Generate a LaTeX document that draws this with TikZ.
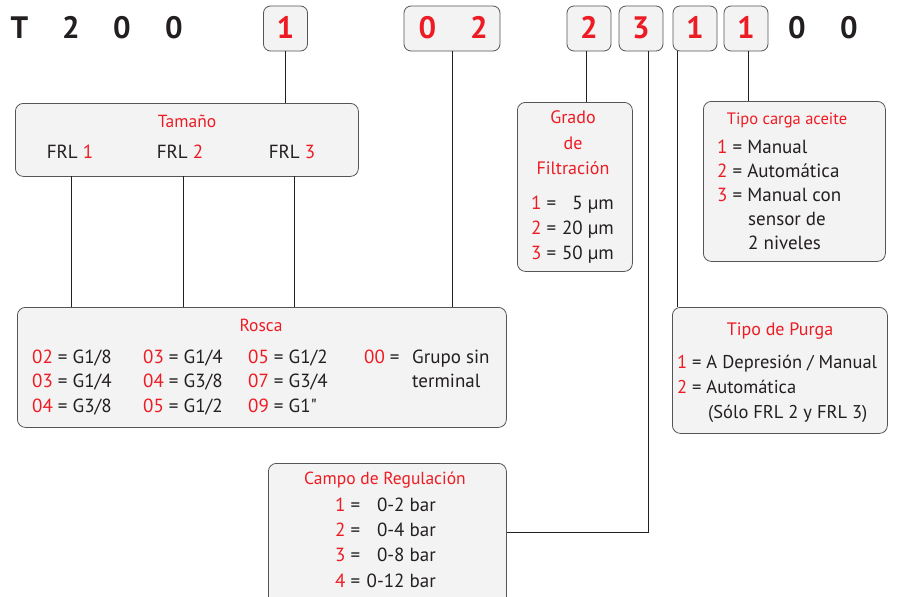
\documentclass[tikz,border=0pt]{standalone}
\usepackage{fontspec}
\setmainfont{PT Sans}
\definecolor{redc}{HTML}{ED1C24}
\definecolor{boxfill}{HTML}{F3F3F3}
\definecolor{boxline}{HTML}{555555}
\definecolor{txt}{HTML}{231F20}
\newcommand{\rc}[1]{\textcolor{redc}{#1}}
\begin{document}
\begin{tikzpicture}[x=1pt,y=-1pt,
  box/.style={draw=boxline,fill=boxfill,rounded corners=8pt,line width=0.8pt,anchor=north west,inner sep=0pt},
  hbox/.style={draw=boxline,fill=boxfill,rounded corners=7pt,line width=0.8pt,inner sep=0pt,minimum width=44pt,minimum height=45pt},
  hd/.style={font=\fontsize{31}{33}\selectfont\bfseries,text=txt,anchor=base,inner sep=0pt},
  hr/.style={font=\fontsize{31}{33}\selectfont\bfseries,text=redc,anchor=base,inner sep=0pt},
  ttl/.style={font=\fontsize{16.5}{18}\selectfont,text=redc,anchor=base,inner sep=0pt},
  tx/.style={font=\fontsize{19}{21}\selectfont,text=txt,anchor=base west,inner sep=0pt},
  txe/.style={font=\fontsize{19}{21}\selectfont,text=txt,anchor=base east,inner sep=0pt},
  txc/.style={font=\fontsize{19}{21}\selectfont,text=txt,anchor=base,inner sep=0pt},
  conn/.style={draw=txt,line width=0.8pt}]
\useasboundingbox (0,0) rectangle (897,597);
\fill[white] (0,0) rectangle (897,597);

% header
\node[hd] (t1) at (19.5,38.5) {T};
\node[hd] (t2) at (71,38.5) {2};
\node[hd] (t3) at (122,38.5) {0};
\node[hd] (t4) at (174,38.5) {0};
\node[hbox] (h1) at (285.5,28.5) {};
\node[hr] (h1t) at (285.5,38.5) {1};
\node[hbox,minimum width=96pt] (h02) at (452,28.5) {};
\node[hr] (h02a) at (427.5,38.5) {0};
\node[hr] (h02b) at (479,38.5) {2};
\node[hbox] (h2) at (589,28.5) {};
\node[hr] (h2t) at (589,38.5) {2};
\node[hbox] (h3) at (641,28.5) {};
\node[hr] (h3t) at (641,38.5) {3};
\node[hbox] (h4) at (695,28.5) {};
\node[hr] (h4t) at (695,38.5) {1};
\node[hbox] (h5) at (746,28.5) {};
\node[hr] (h5t) at (746,38.5) {1};
\node[hd] (t5) at (797,38.5) {0};
\node[hd] (t6) at (849,38.5) {0};

% boxes
\node[box,minimum width=343pt,minimum height=73pt] (tam) at (15,103) {};
\node[box,minimum width=489pt,minimum height=120pt] (ros) at (17,307) {};
\node[box,minimum width=115pt,minimum height=169pt] (gra) at (517,102) {};
\node[box,minimum width=182pt,minimum height=160pt] (ace) at (703,101) {};
\node[box,minimum width=215pt,minimum height=126pt] (pur) at (672,307) {};
\node[box,minimum width=238pt,minimum height=150pt] (cam) at (268,463) {};

% connectors
\coordinate (f1) at (71,176);
\coordinate (f2) at (183,176);
\coordinate (f3) at (294,176);
\draw[conn] (h1.south) -- (h1.south |- tam.north);
\draw[conn] (f1) -- (f1 |- ros.north);
\draw[conn] (f2) -- (f2 |- ros.north);
\draw[conn] (f3) -- (f3 |- ros.north);
\draw[conn] (h02.south) -- (h02.south |- ros.north);
\draw[conn] ([xshift=-3pt]h2.south) -- ([xshift=-3pt]h2.south |- gra.north);
\draw[conn] ([xshift=7pt]h3.south) -- ([xshift=7pt]h3.south |- 0,532) -- (cam.east |- 0,532);
\draw[conn] ([xshift=5pt]h4.south west) -- ([xshift=5pt]h4.south west |- pur.north);
\draw[conn] ([xshift=2pt]h5.south) -- ([xshift=2pt]h5.south |- ace.north);

% Tamano
\node[ttl,font=\fontsize{17.5}{19}\selectfont] (tamt) at (187,127) {Tamaño};
\node[txc] (frl1) at (70,158) {FRL \rc{1}};
\node[txc] (frl2) at (180,158) {FRL \rc{2}};
\node[txc] (frl3) at (292,158) {FRL \rc{3}};

% Rosca
\node[ttl,font=\fontsize{17.5}{19}\selectfont] (rost) at (261,331) {Rosca};
\node[tx] (r11) at (32,363) {\rc{02} = G1/8};
\node[tx] (r12) at (32,387) {\rc{03} = G1/4};
\node[tx] (r13) at (32,412) {\rc{04} = G3/8};
\node[tx] (r21) at (143,363) {\rc{03} = G1/4};
\node[tx] (r22) at (143,387) {\rc{04} = G3/8};
\node[tx] (r23) at (143,412) {\rc{05} = G1/2};
\node[tx] (r31) at (248,363) {\rc{05} = G1/2};
\node[tx] (r32) at (248,387) {\rc{07} = G3/4};
\node[tx] (r33) at (248,412) {\rc{09} = G1\textquotedbl};
\node[tx] (r41) at (364,363) {\rc{00} =};
\node[tx] (r42) at (412,363) {Grupo sin};
\node[tx] (r43) at (412,387) {terminal};

% Grado
\node[ttl,font=\fontsize{18}{20}\selectfont] (gt1) at (573,123) {Grado};
\node[ttl,font=\fontsize{18}{20}\selectfont] (gt2) at (573,149) {de};
\node[ttl,font=\fontsize{18}{20}\selectfont] (gt3) at (573,174) {Filtración};
\node[tx] (g1a) at (531,209) {\rc{1} =};
\node[txe] (g1b) at (614,209) {5 µm};
\node[tx] (g2a) at (531,234) {\rc{2} =};
\node[txe] (g2b) at (614,234) {20 µm};
\node[tx] (g3a) at (531,259) {\rc{3} =};
\node[txe] (g3b) at (614,259) {50 µm};

% Aceite
\node[ttl] (at) at (787,124) {Tipo carga aceite};
\node[tx] (a1) at (717,153) {\rc{1} = Manual};
\node[tx] (a2) at (717,177) {\rc{2} = Automática};
\node[tx] (a3) at (717,201) {\rc{3} = Manual con};
\node[tx] (a4) at (748,225) {sensor de};
\node[tx] (a5) at (748,249) {2 niveles};

% Purga
\node[ttl,font=\fontsize{18}{20}\selectfont] (pt) at (780,335) {Tipo de Purga};
\node[tx,font=\fontsize{18.5}{21}\selectfont] (p1) at (677,368) {\rc{1} = A Depresión / Manual};
\node[tx,font=\fontsize{18.5}{21}\selectfont] (p2) at (677,393) {\rc{2} = Automática};
\node[tx,font=\fontsize{18.5}{21}\selectfont] (p3) at (708,418) {(Sólo FRL 2 y FRL 3)};

% Campo
\node[ttl,font=\fontsize{17.5}{19}\selectfont] (ct) at (385,484) {Campo de Regulación};
\node[tx] (c1a) at (335,511) {\rc{1} =};
\node[txe] (c1b) at (436,511) {0-2 bar};
\node[tx] (c2a) at (335,536) {\rc{2} =};
\node[txe] (c2b) at (436,536) {0-4 bar};
\node[tx] (c3a) at (335,561) {\rc{3} =};
\node[txe] (c3b) at (436,561) {0-8 bar};
\node[tx] (c4a) at (335,587) {\rc{4} =};
\node[txe] (c4b) at (436,587) {0-12 bar};
\end{tikzpicture}
\end{document}
